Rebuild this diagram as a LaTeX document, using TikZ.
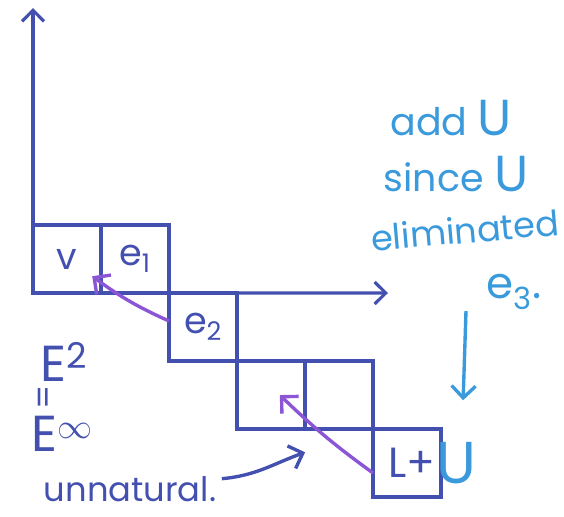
\documentclass[tikz,border=0pt]{standalone}
\usepackage{fontspec}
\setmainfont{Poppins}
\usetikzlibrary{arrows.meta,positioning}
\definecolor{ink}{HTML}{4350AF}
\definecolor{sky}{HTML}{3A9ADB}
\definecolor{lilac}{HTML}{8B55D6}

\begin{document}
\begin{tikzpicture}[
    x=0.025cm, y=-0.025cm,
    node distance=0pt,
    cell/.style={draw=ink, line width=2.6pt, minimum width=1.7cm, minimum height=1.7cm,
      outer sep=0pt, inner sep=0pt, text=ink, font=\fontsize{26}{30}\selectfont},
    hand/.style={text=ink, font=\fontsize{24}{28}\selectfont, inner sep=1pt},
    big/.style={text=ink, font=\fontsize{36}{40}\selectfont, inner sep=1pt},
    note/.style={text=sky, font=\fontsize{27}{30}\selectfont, inner sep=1pt},
    axis/.style={draw=ink, line width=2.2pt, -{Straight Barb[length=2.8mm,width=5.5mm]}},
    tip/.style={line width=2.4pt, -{Straight Barb[length=3mm,width=6mm]}},
  ]
    \useasboundingbox (0,0) rectangle (564,516);

    % Staircase of cells
    \node[cell, anchor=north west] (v) at (33,225) {v};
    \node[cell, right=of v] (e1) {e\textsubscript{1}};
    \node[cell, below right=of e1] (e2) {e\textsubscript{2}};
    \node[cell, below right=of e2] (r3a) {};
    \node[cell, right=of r3a] (r3b) {};
    \node[cell, below right=of r3b] (r4) {};
    \node[hand, anchor=east, font=\fontsize{30}{32}\selectfont] (lplus) at ([xshift=-0.1cm]r4.east) {L+};
    \node[note, anchor=west, font=\fontsize{42}{44}\selectfont] (uu) at ([xshift=-0.15cm]r4.east) {U};

    % Axes
    \coordinate (ytop) at (33,8);
    \coordinate (xend) at (388,293);
    \draw[axis] (v.south west) -- (ytop);
    \draw[axis] (v.south west) -- (xend);

    % E^2 = E^infty
    \node[big] (esq) at (64,362) {E\textsuperscript{2}};
    \node[hand, rotate=90, font=\fontsize{24}{26}\selectfont] (eqs) at (47,397) {=};
    \node[big] (einf) at (62,434) {E$^{\infty}$};

    % Remarks
    \node[hand] (unnat) at (130,489) {unnatural.};
    \node[note] (add) at (451,118) {add {\fontsize{36}{38}\selectfont U}};
    \node[note] (since) at (456,174) {since {\fontsize{36}{38}\selectfont U}};
    \node[note, rotate=5, font=\fontsize{25}{28}\selectfont] (elim) at (465,230) {eliminated};
    \node[note, font=\fontsize{31}{34}\selectfont] (ethree) at (514,292) {e\textsubscript{3}.};

    % Arrows
    \draw[tip, lilac] ([yshift=0.15cm]e2.west) to[bend left=6] ([xshift=-0.22cm,yshift=0.42cm]v.south east);
    \draw[tip, lilac] ([yshift=-0.25cm]r4.west) to[bend left=4] ([xshift=0.22cm]r3a.center);
    \draw[tip, ink] ([xshift=0.1cm,yshift=-0.1cm]unnat.north east) to[out=5, in=200] ([yshift=-0.58cm]r3b.south west);
    \draw[tip, sky] ([xshift=-1.2cm]ethree.south) -- ([xshift=0.55cm,yshift=0.72cm]r4.north east);

  \end{tikzpicture}
\end{document}
